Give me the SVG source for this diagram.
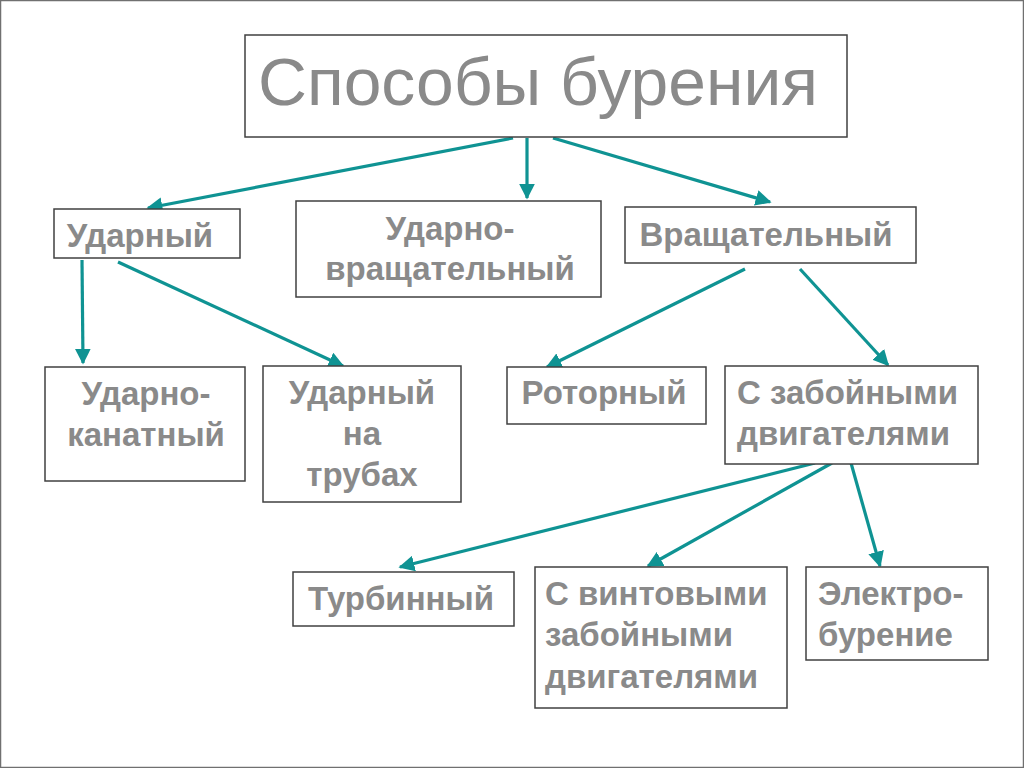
<svg xmlns="http://www.w3.org/2000/svg" width="1024" height="768" viewBox="0 0 1024 768">
<defs>
<style>
.box{fill:#fff;stroke:#404040;stroke-width:1.5}
.t{font-family:"Liberation Sans",Arial,sans-serif;font-weight:bold;font-size:33px;fill:#8a8a8a;text-anchor:middle}
.l{text-anchor:start}
.title{font-family:"Liberation Sans",Arial,sans-serif;font-size:67px;fill:#8a8a8a}
.c{stroke:#0f9393;stroke-width:3.2;fill:none;marker-end:url(#ah)}
</style>
<marker id="ah" viewBox="0 0 10 10" refX="9" refY="5" markerWidth="5" markerHeight="5" orient="auto" markerUnits="strokeWidth">
<path d="M0,0 L10,5 L0,10 Z" fill="#0f9393"/>
</marker>
</defs>
<rect x="0" y="0" width="1024" height="768" fill="#fff"/>
<rect x="0.5" y="0.5" width="1023" height="767" fill="none" stroke="#707070" stroke-width="1.5"/>
<g id="connectors">
<line class="c" x1="513" y1="138" x2="148" y2="208"/>
<line class="c" x1="527" y1="138" x2="527" y2="198"/>
<line class="c" x1="553" y1="138" x2="770" y2="202"/>
<line class="c" x1="82" y1="260" x2="83" y2="363"/>
<line class="c" x1="118" y1="262" x2="343" y2="366"/>
<line class="c" x1="745" y1="269" x2="547" y2="367"/>
<line class="c" x1="800" y1="269" x2="888" y2="365"/>
<line class="c" x1="815" y1="463" x2="400" y2="567"/>
<line class="c" x1="832" y1="463" x2="648" y2="566"/>
<line class="c" x1="851" y1="463" x2="880" y2="566"/>
</g>
<g id="n-title">
<rect class="box" x="245" y="35" width="602" height="102"/>
<text class="title" x="258" y="105" textLength="560" lengthAdjust="spacingAndGlyphs">Способы бурения</text>
</g>
<g id="n-udarny">
<rect class="box" x="54" y="209" width="186" height="49"/>
<text class="t" x="140" y="247">Ударный</text>
</g>
<g id="n-udarno-vrasch">
<rect class="box" x="296" y="201" width="305" height="96"/>
<text class="t" x="450" y="240">Ударно-</text>
<text class="t" x="450" y="280">вращательный</text>
</g>
<g id="n-vrasch">
<rect class="box" x="625" y="207" width="291" height="56"/>
<text class="t" x="766" y="246">Вращательный</text>
</g>
<g id="n-kanatny">
<rect class="box" x="45" y="367" width="200" height="114"/>
<text class="t" x="146" y="405">Ударно-</text>
<text class="t" x="146" y="446">канатный</text>
</g>
<g id="n-truby">
<rect class="box" x="263" y="366" width="198" height="136"/>
<text class="t" x="362" y="404">Ударный</text>
<text class="t" x="362" y="445">на</text>
<text class="t" x="362" y="486">трубах</text>
</g>
<g id="n-rotorny">
<rect class="box" x="507" y="367" width="199" height="57"/>
<text class="t" x="604" y="404">Роторный</text>
</g>
<g id="n-zaboy">
<rect class="box" x="725" y="366" width="253" height="98"/>
<text class="t l" x="737" y="404">С забойными</text>
<text class="t l" x="737" y="445">двигателями</text>
</g>
<g id="n-turbo">
<rect class="box" x="293" y="572" width="221" height="54"/>
<text class="t" x="401" y="610">Турбинный</text>
</g>
<g id="n-vint">
<rect class="box" x="535" y="567" width="252" height="141"/>
<text class="t l" x="545" y="605">С винтовыми</text>
<text class="t l" x="545" y="646">забойными</text>
<text class="t l" x="545" y="688">двигателями</text>
</g>
<g id="n-elektro">
<rect class="box" x="806" y="567" width="182" height="93"/>
<text class="t l" x="818" y="605">Электро-</text>
<text class="t l" x="818" y="646">бурение</text>
</g>
</svg>
